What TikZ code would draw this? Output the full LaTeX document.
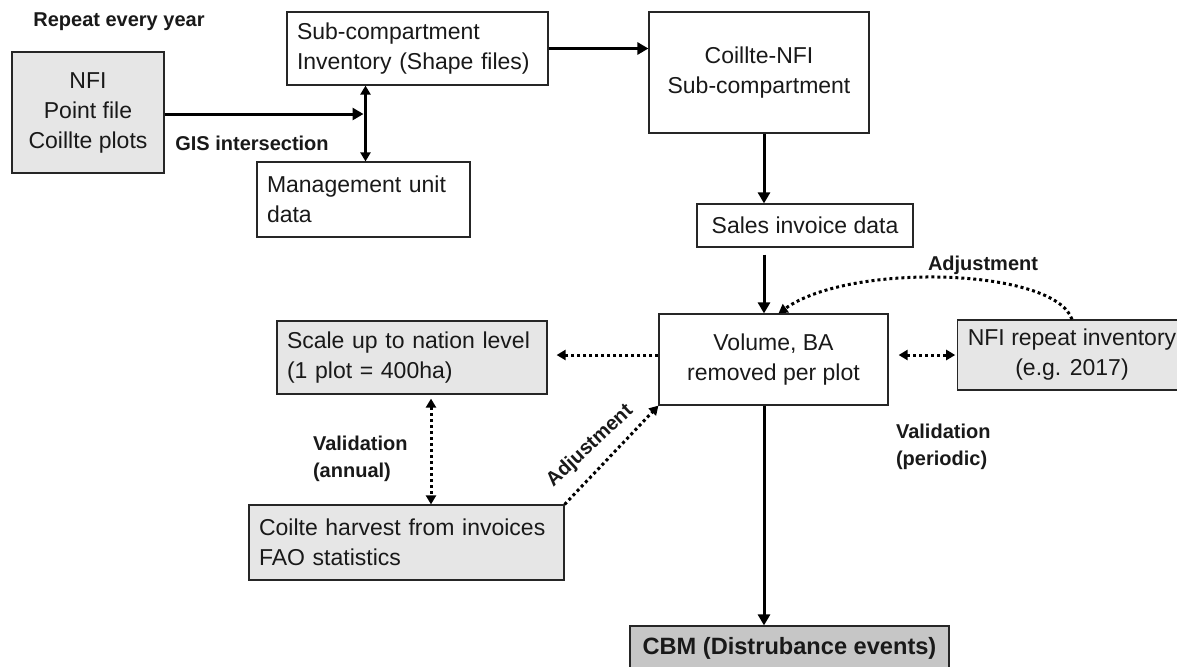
\documentclass[tikz,border=0pt]{standalone}
\usepackage{fontspec}
\setmainfont{Liberation Sans}
\usetikzlibrary{arrows.meta}
\begin{document}
\begin{tikzpicture}[x=0.5pt,y=-0.5pt,
  box/.style={draw=black!85,line width=0.6pt,inner xsep=5pt,inner ysep=2pt,
    text=black!90,font=\fontsize{11.5}{15}\selectfont},
  greybox/.style={box,fill=boxgrey},
  lbl/.style={font=\bfseries\fontsize{10}{13.5}\selectfont,text=black!90},
  flow/.style={line width=1.5pt,-{Triangle[length=5.5pt,width=6pt]}},
  dotflow/.style={line width=1.5pt,dash pattern=on 1.5pt off 1.5pt,
    -{Triangle[length=4.5pt,width=5pt]}},
  twoway/.style={{Triangle[length=4.5pt,width=5pt]}-{Triangle[length=4.5pt,width=5pt]}}]
\definecolor{boxgrey}{HTML}{E6E6E6}
\definecolor{cbmgrey}{HTML}{C6C6C6}
\useasboundingbox (0,0) rectangle (1177,666);
\node[greybox,minimum width=76pt,minimum height=60.5pt,align=center] (nfi) at (88,112.5)
  {NFI\\Point file\\Coillte plots};
\node[box,minimum width=130.5pt,minimum height=36.5pt,text width=120.5pt,align=left] (sub) at (417.5,48.5)
  {Sub-compartment\\Inventory (Shape files)};
\node[box,minimum width=106.5pt,minimum height=37.5pt,text width=96.5pt,align=left] (mgmt) at (363.5,199.5)
  {Management unit\\data};
\node[box,minimum width=110pt,minimum height=60.5pt,align=center] (coillte) at (759,72.5)
  {Coillte-NFI\\Sub-compartment};
\node[box,minimum width=108pt,minimum height=21.5pt] (sales) at (805,225.5) {Sales invoice data};
\node[box,minimum width=114.5pt,minimum height=45.5pt,align=center] (vol) at (773.5,359.5)
  {Volume, BA\\removed per plot};
\node[greybox,minimum width=108pt,minimum height=35pt,align=center] (nfirep) at (1072,355)
  {NFI repeat inventory\\(e.g. 2017)};
\node[greybox,minimum width=134pt,minimum height=36.5pt,text width=125pt,align=left] (scale) at (412,357.5)
  {Scale up to nation level\\(1 plot = 400ha)};
\node[greybox,minimum width=157.5pt,minimum height=37.5pt,text width=147.5pt,align=left] (harvest) at (406.5,542.5)
  {Coilte harvest from invoices\\FAO statistics};
\node[box,fill=cbmgrey,minimum width=159.5pt,minimum height=22pt,font=\bfseries\fontsize{11.8}{15}\selectfont] (cbm) at (789.5,648)
  {CBM (Distrubance events)};
\node[lbl] (repeat) at (119,22) {Repeat every year};
\node[lbl] (gislbl) at (252,143) {GIS intersection};
\node[lbl] (adjtop) at (983,265) {Adjustment};
\node[lbl,anchor=west,align=left] (valann) at (306,459) {Validation\\(annual)};
\node[lbl,anchor=west,align=left] (valper) at (889,447) {Validation\\(periodic)};
\node[lbl,rotate=43,inner sep=0pt] (adjlow) at (590,446) {Adjustment};
\coordinate (gis) at (365.5,114);
\coordinate (spine) at (764,0);
\coordinate (midrow) at (0,355);
\coordinate (valx) at (431,0);
\draw[flow,shorten >=1pt] (nfi.east |- gis) -- (gis);
\draw[flow,twoway] (sub.south -| gis) -- (mgmt.north -| gis);
\draw[flow] (sub.east) -- (coillte.west |- sub.east);
\draw[flow] (coillte.south -| spine) -- (sales.north -| spine);
\draw[flow,shorten <=3.5pt] (sales.south -| spine) -- (vol.north -| spine);
\draw[flow] (vol.south -| spine) -- (cbm.north -| spine);
\draw[dotflow,shorten >=4.5pt] (vol.west |- midrow) -- (scale.east |- midrow);
\draw[dotflow,twoway,shorten <=5pt,shorten >=1pt] (vol.east |- midrow) -- (nfirep.west |- midrow);
\draw[dotflow,twoway,shorten <=2pt] (scale.south -| valx) -- (harvest.north -| valx);
\draw[dotflow] (harvest.north east) -- (vol.south west);
\draw[dotflow] (nfirep.north) .. controls (1055,268) and (850,262) .. ([xshift=2.5pt]vol.north);
\end{tikzpicture}
\end{document}
